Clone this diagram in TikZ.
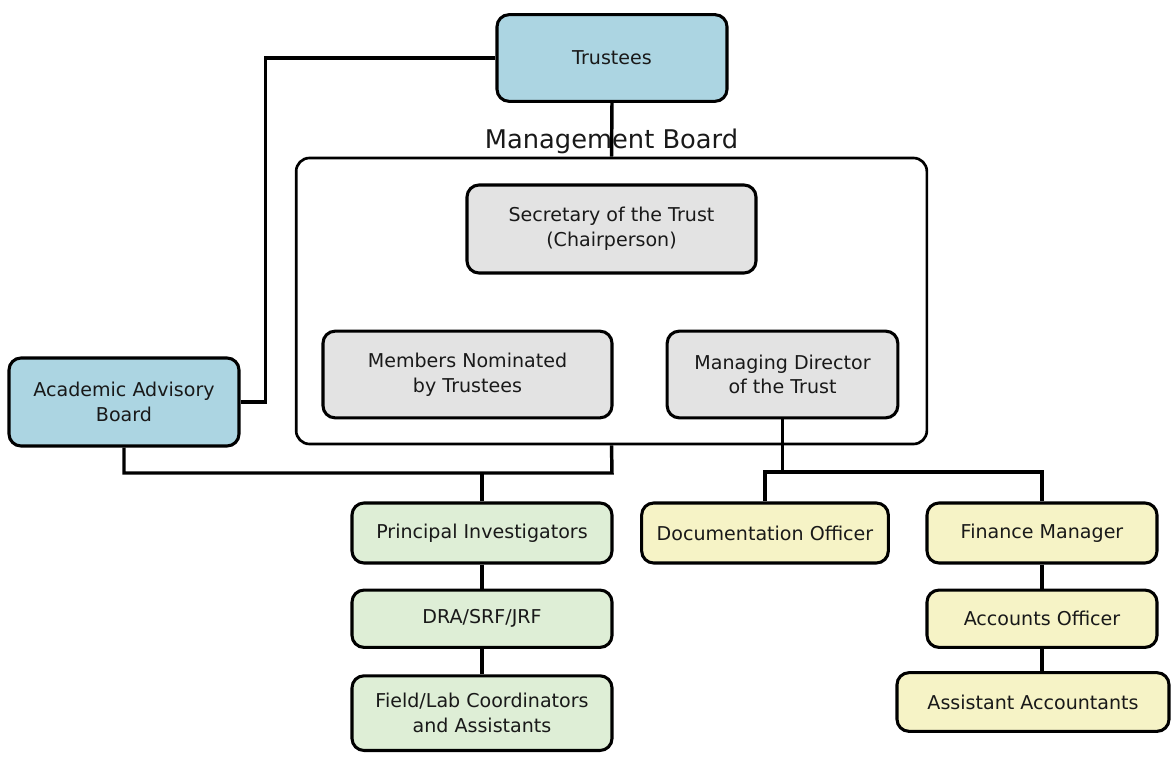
\documentclass[tikz,border=0pt]{standalone}
\usepackage{fontspec}
\setmainfont{DejaVu Sans}
\usetikzlibrary{positioning}

\definecolor{trustblue}{RGB}{172,213,226}
\definecolor{boardgrey}{RGB}{227,227,227}
\definecolor{researchgreen}{RGB}{222,238,214}
\definecolor{officeyellow}{RGB}{246,243,198}

\begin{document}
\begin{tikzpicture}[
    x=0.75pt, y=-0.75pt,
    box/.style={draw, line width=2.3pt, rounded corners=9pt, align=center, inner sep=0pt,
      text=black!90, font=\fontsize{14.3}{18.5}\selectfont},
    frame/.style={draw, line width=2pt, rounded corners=10pt, inner sep=0pt},
    link/.style={line width=2.6pt}
  ]
  \useasboundingbox (0,0) rectangle (1173,756);

  % top level
  \node[box, fill=trustblue, minimum width=172.5pt, minimum height=65pt] (trustees) at (612,58) {Trustees};
  \node[frame, minimum width=473pt, minimum height=214.5pt,
    label={[font=\fontsize{19.3}{22}\selectfont, text=black!90, inner sep=2pt]above:Management Board}] (board) at (611.5,301) {};
  \node[box, fill=boardgrey, minimum width=216.75pt, minimum height=66pt] (secretary) at (611.5,229) {Secretary of the Trust\\(Chairperson)};
  \node[box, fill=boardgrey, minimum width=216.75pt, minimum height=65pt] (members) at (467.5,374.5) {Members Nominated\\by Trustees};
  \node[box, fill=boardgrey, minimum width=173pt, minimum height=65pt] (director) at (782.5,374.5) {Managing Director\\of the Trust};
  \node[box, fill=trustblue, minimum width=172.5pt, minimum height=66pt] (advisory) at (124,402) {Academic Advisory\\Board};

  % research staff
  \node[box, fill=researchgreen, minimum width=195pt, minimum height=45pt] (pi) at (482,533) {Principal Investigators};
  \node[box, fill=researchgreen, minimum width=195pt, minimum height=43pt, below=18pt of pi] (dra) {DRA/SRF/JRF};
  \node[box, fill=researchgreen, minimum width=195pt, minimum height=56pt, below=19pt of dra] (field) {Field/Lab Coordinators\\and Assistants};

  % office staff
  \node[box, fill=officeyellow, minimum width=185pt, minimum height=45pt] (doc) at (765,533) {Documentation Officer};
  \node[box, fill=officeyellow, minimum width=172.5pt, minimum height=45pt] (finance) at (1042,533) {Finance Manager};
  \node[box, fill=officeyellow, minimum width=172.5pt, minimum height=43pt, below=18pt of finance] (accounts) {Accounts Officer};
  \node[box, fill=officeyellow, minimum width=204pt, minimum height=44pt] (assistant) at (1033,702) {Assistant Accountants};

  \coordinate (bus) at (612,473);
  \coordinate (officebus) at (782,472);

  \draw[link] (trustees.south) -- (board.north);
  \draw[link] (trustees.west) -- ++(-230,0) |- (advisory.east);
  \draw[link] (advisory.south) |- (bus) -- (board.south);
  \draw[link] (pi.north) -- (pi.north |- bus);
  \draw[link] (pi) -- (dra);
  \draw[link] (dra) -- (field);
  \draw[link] (director.south) -- (director.south |- officebus);
  \draw[link] (doc.north) |- (finance.north |- officebus) -- (finance.north);
  \draw[link] (finance) -- (accounts);
  \draw[link] (accounts.south) -- (accounts.south |- assistant.north);
\end{tikzpicture}
\end{document}
